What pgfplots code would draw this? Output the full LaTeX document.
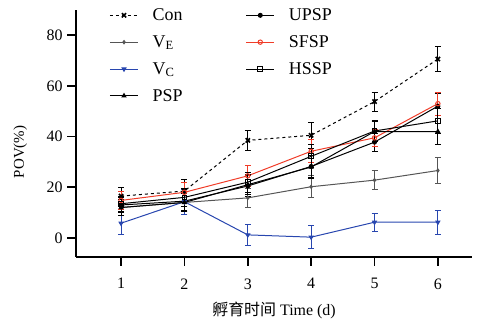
\documentclass[border=0pt]{standalone}
\usepackage{fontspec}
\setmainfont{Liberation Serif}
\newfontfamily\cjk{Noto Sans CJK SC}
\usepackage{pgfplots}
\pgfplotsset{compat=1.18}
\definecolor{vcblue}{RGB}{40,70,175}
\definecolor{sfred}{RGB}{240,60,40}
\definecolor{vegray}{RGB}{85,85,85}
\begin{document}
\begin{tikzpicture}
\begin{axis}[
  scale only axis, width=396bp, height=247bp,
  axis lines=left,
  axis line style={-, line width=1.6pt},
  xmin=0.29, xmax=6.54, ymin=-7.5, ymax=90,
  xtick={1,2,3,4,5,6}, ytick={0,20,40,60,80},
  tick align=outside, major tick length=9bp,
  tick style={line width=1.6pt, black},
  /pgf/number format/assume math mode=true,
  tick label style={font=\fontsize{16}{18}\selectfont},
  xticklabel style={yshift=-9bp},
  yticklabel style={xshift=-1bp},
  ylabel={POV(\%)},
  every axis y label/.style={at={(rel axis cs:-0.141,0.425)}, rotate=90, anchor=center, font=\fontsize{15}{17}\selectfont},
  xlabel={{\cjk 孵育时间} Time (d)},
  every axis x label/.style={at={(rel axis cs:0.5,-0.215)}, anchor=center, font=\fontsize{16}{18}\selectfont},
  clip=false,
  legend columns=2,
  legend style={at={(rel axis cs:0.076,1.022)}, anchor=north west, draw=none, fill=none,
    font=\fontsize{18}{20}\selectfont, row sep=9.5bp,
    /tikz/every odd column/.append style={column sep=12bp},
    /tikz/every even column/.append style={column sep=61bp}},
  legend cell align=left,
  legend image code/.code={\draw[mark repeat=2,mark phase=2] plot coordinates {(0cm,0cm) (0.5cm,0cm) (1cm,0cm)};},
  error bars/y dir=both, error bars/y explicit,
  error bars/error bar style={line width=0.9pt},
  error bars/error mark options={rotate=90, mark size=3bp, line width=0.9pt},
]
\addplot[black, dashed, line width=1pt, mark=x, mark size=3pt, mark options={solid, line width=1.6pt},
  error bars/error bar style={solid, line width=0.9pt}]
  table[x=x,y=y,y error=e]{
x y e
1 16.5 3.5
2 18.5 4.5
3 38.5 4
4 40.5 5
5 53.8 3.7
6 70.6 5
};
\addlegendentry{Con}
\addplot[black, line width=1pt, mark=*, mark size=2pt]
  table[x=x,y=y,y error=e]{
x y e
1 13 3
2 14.5 3.5
3 20.5 4
4 28.2 4.5
5 37.8 3.5
6 52 5
};
\addlegendentry{UPSP}
\addplot[vegray, line width=1pt, mark=diamond*, mark size=1.6pt]
  table[x=x,y=y,y error=e]{
x y e
1 12 3
2 14 3.5
3 15.8 3.8
4 20.2 4.3
5 22.8 3.8
6 26.6 5
};
\addlegendentry{V\textsubscript{E}}
\addplot[sfred, line width=1pt, mark=o, mark size=2.2pt, mark options={line width=1pt}]
  table[x=x,y=y,y error=e]{
x y e
1 14.8 3.5
2 18 4
3 24.5 4
4 34.2 4.5
5 39.5 3.5
6 53 4.6
};
\addlegendentry{SFSP}
\addplot[vcblue, line width=1pt, mark=triangle*, mark size=2.2pt, mark options={rotate=180}]
  table[x=x,y=y,y error=e]{
x y e
1 5.8 4.5
2 14.3 5
3 1.2 4
4 0.3 4.6
5 6.2 3.5
6 6.2 4.7
};
\addlegendentry{V\textsubscript{C}}
\addplot[black, line width=1pt, mark=square, mark size=2.4pt, mark options={line width=0.9pt}]
  table[x=x,y=y,y error=e]{
x y e
1 13.5 3
2 16 3.5
3 22 4
4 32.2 4.5
5 42.2 4
6 46.2 5
};
\addlegendentry{HSSP}
\addplot[black, line width=1pt, mark=triangle*, mark size=2.2pt]
  table[x=x,y=y,y error=e]{
x y e
1 12 3
2 14 3.5
3 21 4
4 28 4.5
5 42 4
6 42 5
};
\addlegendentry{PSP}
\path (rel axis cs:-0.192,-0.275) rectangle (rel axis cs:1.025,1.04);
\end{axis}
\end{tikzpicture}
\end{document}
